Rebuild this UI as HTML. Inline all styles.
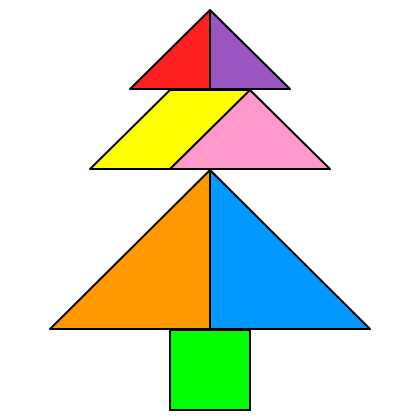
<!DOCTYPE html>
<html><head><meta charset="utf-8"><style>html,body{margin:0;padding:0;background:#fff;width:420px;height:420px;overflow:hidden}</style></head>
<body>
<svg width="420" height="420" viewBox="0 0 420 420">
<g stroke="#000" stroke-width="2" stroke-linejoin="round">
<polygon points="210,10 210,89 130,89" fill="#ff2020"/>
<polygon points="210,10 290,89 210,89" fill="#9a55c2"/>
<polygon points="170,90 250,90 170,169 90,169" fill="#ffff00"/>
<polygon points="250,90 330,169 170,169" fill="#ff99cc"/>
<polygon points="210,170 210,329 50,329" fill="#ff9900"/>
<polygon points="210,170 370,329 210,329" fill="#0099ff"/>
<polygon points="170,330 250,330 250,410 170,410" fill="#00ff00"/>
</g>
</svg>
</body></html>
